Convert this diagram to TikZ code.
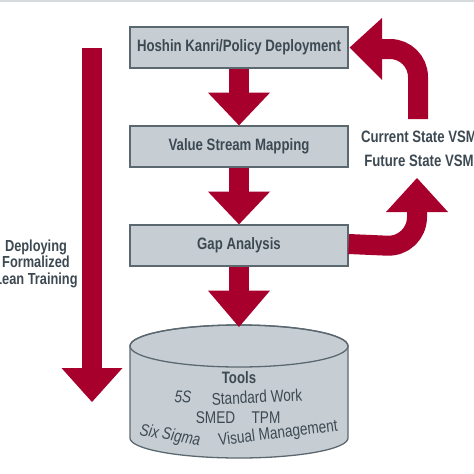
\documentclass[tikz,border=0pt]{standalone}
\usepackage{fontspec}
\setmainfont{Liberation Sans}[FakeStretch=0.8]
\usepackage{tikz}
\definecolor{lnred}{HTML}{A8002C}
\definecolor{lnfill}{HTML}{C6CED4}
\definecolor{lnline}{HTML}{5C6870}
\definecolor{lnink}{HTML}{3D4952}
\definecolor{lnstrip}{HTML}{D6DADC}

\begin{document}
\begin{tikzpicture}[x=1pt, y=-1pt,
  stepbox/.style={draw=lnline, line width=1.3pt, fill=lnfill, minimum width=218pt, minimum height=41pt, inner sep=0pt, text=lnink, font=\fontsize{16.5}{18}\selectfont\bfseries},
  shaft/.style={draw=lnred, line width=20pt},
  headfill/.style={fill=lnred},
  sidetext/.style={text=lnink, font=\fontsize{16}{16.5}\selectfont\bfseries, align=center, inner sep=0pt},
  tooltext/.style={text=lnink, font=\fontsize{17}{18}\selectfont, inner sep=0pt}]
  \useasboundingbox (0,0) rectangle (474,474);
  \clip (0,0) rectangle (474,474);
  \fill[lnstrip] (0,0) rectangle (474,2);

  \node[stepbox] (hoshin) at (239,47.5) {Hoshin Kanri/Policy Deployment};
  \node[stepbox] (vsm) at (239,146.5) {Value Stream Mapping};
  \node[stepbox] (gap) at (239,245.5) {Gap Analysis};

  % cylinder with the tools
  \coordinate (tooltop) at (239,325);
  \filldraw[draw=lnline, line width=1.3pt, fill=lnfill] (130,346) -- (130,438) arc[start angle=180, end angle=0, x radius=109, y radius=20] -- (348,346) arc[start angle=0, end angle=-180, x radius=109, y radius=21] -- cycle;
  \draw[lnline, line width=1.3pt] (239,346) ellipse[x radius=109, y radius=21];
  \node[tooltext, font=\fontsize{16.5}{18}\selectfont\bfseries] (tools) at (239,378) {Tools};
  \node[tooltext, rotate=-3] (fives) at (183,397) {\itshape 5S};
  \node[tooltext, rotate=3] (stdwork) at (257,397) {Standard Work};
  \node[tooltext] (smed) at (215.5,418) {SMED};
  \node[tooltext] (tpm) at (266,418) {TPM};
  \node[tooltext, rotate=-10] (sixsigma) at (170,436) {\itshape Six Sigma};
  \node[tooltext, rotate=7] (visual) at (278,434) {Visual Management};

  % down arrows
  \draw[shaft] (hoshin.south) -- ++(0,24) coordinate (h1);
  \fill[headfill] ([xshift=-31pt]h1) -- ([xshift=31pt]h1) -- (vsm.north) -- cycle;
  \draw[shaft] (vsm.south) -- ++(0,24) coordinate (h2);
  \fill[headfill] ([xshift=-31pt]h2) -- ([xshift=31pt]h2) -- (gap.north) -- cycle;
  \draw[shaft] (gap.south) -- ++(0,24) coordinate (h3);
  \fill[headfill] ([xshift=-31pt]h3) -- ([xshift=31pt]h3) -- ([yshift=-2pt]tooltop) -- cycle;

  % training arrow
  \coordinate (train) at (92,48);
  \coordinate (trainhead) at (92,368);
  \draw[shaft] (train) -- (trainhead);
  \fill[headfill] ([xshift=-30.5pt]trainhead) -- ([xshift=30.5pt]trainhead) -- ++(-30.5,34) -- cycle;
  \node[sidetext] (training) at (36,263.5) {Deploying\\Formalized\\Lean Training};

  % loop back to policy deployment
  \coordinate (loopfoot) at (418,119);
  \coordinate (loophead) at (382,49);
  \draw[shaft, rounded corners=28pt] (loopfoot) -- (418,49) -- (loophead);
  \fill[headfill] ([yshift=-31pt]loophead) -- ([yshift=31pt]loophead) -- ([xshift=1pt]hoshin.east) -- cycle;

  % from gap analysis to the maps
  \coordinate (maphead) at (417,212);
  \draw[shaft, rounded corners=30pt] ([yshift=1.5pt]gap.east) -- (417,247) -- (maphead);
  \fill[headfill] ([xshift=-31pt]maphead) -- ([xshift=31pt]maphead) -- ++(-31,-34) -- cycle;
  \node[sidetext, font=\fontsize{16.5}{18}\selectfont\bfseries] (current) at (419,137) {Current State VSM};
  \node[sidetext, font=\fontsize{16.5}{18}\selectfont\bfseries] (future) at (419,161) {Future State VSM};
\end{tikzpicture}
\end{document}
